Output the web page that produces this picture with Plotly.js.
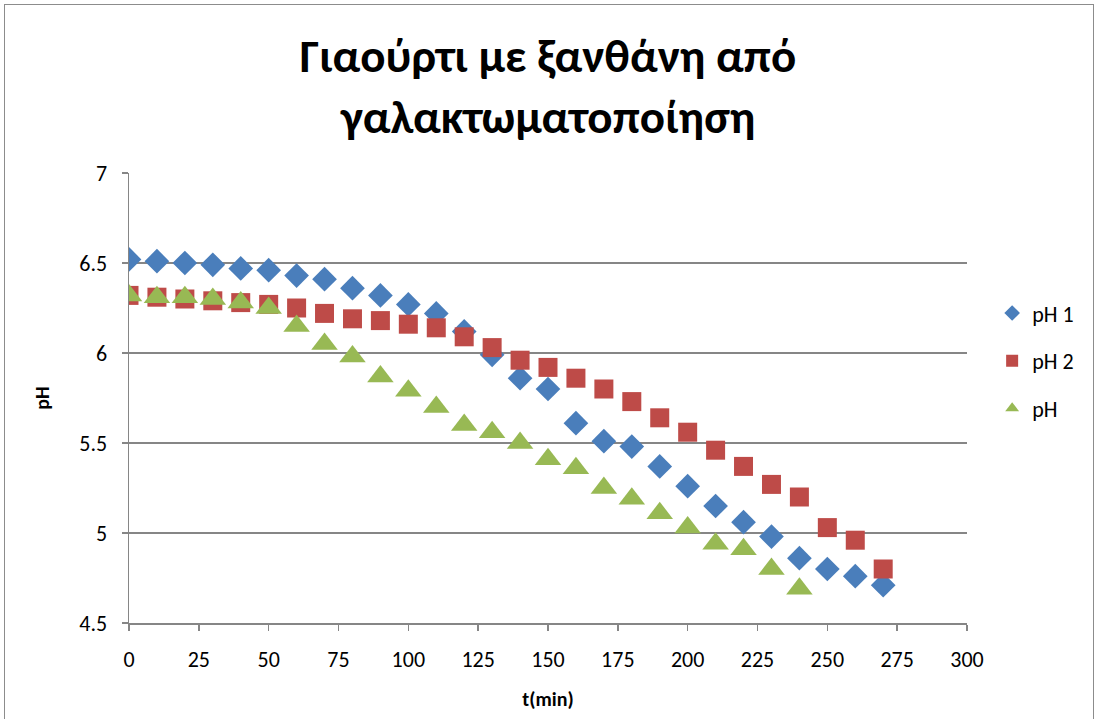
<!DOCTYPE html>
<html>
<head>
<meta charset="utf-8">
<script src="https://cdn.plot.ly/plotly-3.0.1.min.js"></script>
<style>
  html, body { margin: 0; padding: 0; background: #fff; overflow: hidden; }
  #frame { position: absolute; left: 4px; top: 4px; width: 1088px; height: 760px; border: 1px solid #8c8c8c; }
  #chart { position: absolute; left: 0; top: 0; width: 1096px; height: 719px; }
</style>
</head>
<body>
<div id="frame"></div>
<div id="chart"></div>
<script>
// Sampling times (min)
const tMin = [0, 10, 20, 30, 40, 50, 60, 70, 80, 90, 100, 110, 120, 130, 140,
              150, 160, 170, 180, 190, 200, 210, 220, 230, 240, 250, 260, 270];

// pH measurements for each run
const pH1 = [6.52, 6.51, 6.50, 6.49, 6.47, 6.46, 6.43, 6.41, 6.36, 6.32, 6.27, 6.22, 6.12, 5.99,
             5.86, 5.80, 5.61, 5.51, 5.48, 5.37, 5.26, 5.15, 5.06, 4.98, 4.86, 4.80, 4.76, 4.71];
const pH2 = [6.32, 6.31, 6.30, 6.29, 6.28, 6.27, 6.25, 6.22, 6.19, 6.18, 6.16, 6.14, 6.09, 6.03,
             5.96, 5.92, 5.86, 5.80, 5.73, 5.64, 5.56, 5.46, 5.37, 5.27, 5.20, 5.03, 4.96, 4.80];
const pH3 = [6.32, 6.31, 6.31, 6.30, 6.28, 6.25, 6.15, 6.05, 5.98, 5.87, 5.79, 5.70, 5.60, 5.56,
             5.50, 5.41, 5.36, 5.25, 5.19, 5.11, 5.03, 4.94, 4.91, 4.80, 4.69];

const seriesNames = ['pH 1', 'pH 2', 'pH'];
const xTicks = [0, 25, 50, 75, 100, 125, 150, 175, 200, 225, 250, 275, 300];
const yTicks = [4.5, 5, 5.5, 6, 6.5, 7];

const font = 'Carlito, Calibri, Lato, "Open Sans", sans-serif';

const traces = [
  { x: tMin, y: pH1, name: seriesNames[0], legendgroup: 'a', type: 'scatter', mode: 'markers',
    marker: { symbol: 'diamond', size: 19, color: '#4a7ebb' } },
  { x: tMin, y: pH2, name: seriesNames[1], legendgroup: 'b', type: 'scatter', mode: 'markers',
    marker: { symbol: 'square', size: 19, color: '#be4b48' } },
  { x: tMin.slice(0, pH3.length), y: pH3, name: seriesNames[2], legendgroup: 'c', type: 'scatter', mode: 'markers',
    marker: { symbol: 'triangle-up', size: 23, color: '#98b954' } }
];

const layout = {
  width: 1096, height: 719,
  paper_bgcolor: 'rgba(0,0,0,0)', plot_bgcolor: 'rgba(0,0,0,0)',
  margin: { l: 129, r: 129, t: 173, b: 96 },
  font: { family: font, color: '#000', size: 22 },
  title: {
    text: '<b>Γιαούρτι με ξανθάνη από<br>γαλακτωματοποίηση</b>',
    font: { family: font, size: 47, color: '#000' },
    x: 0.5, xanchor: 'center', y: 0.9, yanchor: 'top'
  },
  xaxis: {
    range: [0, 300], tickvals: xTicks, ticktext: xTicks.map(String),
    showgrid: false, zeroline: false,
    showline: true, linecolor: '#868686', linewidth: 1.5,
    ticks: 'outside', ticklen: 6, tickcolor: '#868686', tickwidth: 1.5,
    ticklabelstandoff: 10,
    tickfont: { size: 22, family: font },
    title: { text: '<b>t(min)</b>', font: { size: 20, family: font }, standoff: 20 }
  },
  yaxis: {
    range: [4.5, 7], tickvals: yTicks, ticktext: yTicks.map(String),
    showgrid: true, gridcolor: '#868686', gridwidth: 1.5, zeroline: false,
    showline: true, linecolor: '#868686', linewidth: 1.5,
    ticks: 'outside', ticklen: 6, tickcolor: '#868686', tickwidth: 1.5,
    ticklabelstandoff: 10,
    tickfont: { size: 22, family: font },
    title: { text: '<b>pH</b>', font: { size: 20, family: font }, standoff: 24 }
  },
  showlegend: true,
  legend: {
    x: 1.03, xanchor: 'left', y: 0.735, yanchor: 'top',
    font: { size: 22, family: font }, itemsizing: 'constant',
    tracegroupgap: 16, bgcolor: 'rgba(0,0,0,0)'
  }
};

Plotly.newPlot('chart', traces, layout, { displayModeBar: false, staticPlot: true });
</script>
</body>
</html>
